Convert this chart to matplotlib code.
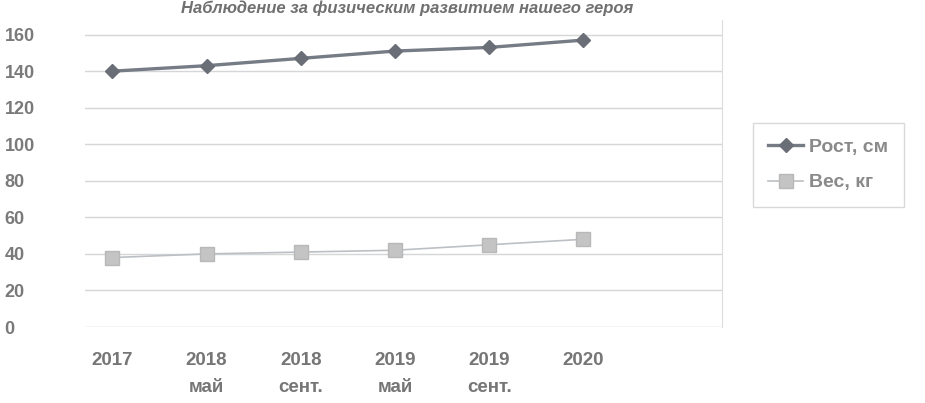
import matplotlib
matplotlib.use('Agg')
import matplotlib.pyplot as plt

periods = ['2017', '2018\nмай', '2018\nсент.', '2019\nмай', '2019\nсент.', '2020']
height_cm = [140, 143, 147, 151, 153, 157]
weight_kg = [38, 40, 41, 42, 45, 48]
y_ticks = [0, 20, 40, 60, 80, 100, 120, 140, 160]

plt.rcParams['font.family'] = ['Liberation Sans', 'DejaVu Sans']
plt.rcParams['font.weight'] = 'bold'

fig = plt.figure(figsize=(9.25, 4.03), dpi=100)
ax = fig.add_axes([85 / 925, 1 - 327 / 403, (722 - 85) / 925, (327 - 20) / 403])

x = list(range(len(periods)))
ax.plot(x, height_cm, color='#767c86', lw=2.4, marker='D', ms=7,
        mfc='#6a6e76', mec='#6a6e76', label='Рост, см', zorder=3)
ax.plot(x, weight_kg, color='#bcc0c4', lw=1.2, marker='s', ms=10,
        mfc='#c4c4c4', mec='#b8b8b8', label='Вес, кг', zorder=3)

ax.set_xlim(-0.29, 6.47)
ax.set_ylim(0, 168)
ax.set_yticks(y_ticks)
ax.set_xticks(x)
ax.set_xticklabels(periods, fontsize=13.5, color='#767676', linespacing=1.75)
for lab in ax.get_yticklabels():
    lab.set_horizontalalignment('left')
ax.tick_params(axis='y', length=0, pad=58, labelsize=13, labelcolor='#7a7a7a')
ax.tick_params(axis='x', length=0, pad=18)

ax.grid(axis='y', color='#d4d6d8', lw=1.0)
for side in ['top', 'left', 'bottom']:
    ax.spines[side].set_visible(False)
ax.spines['right'].set_color('#dcdcdc')

fig.text(0.44, 1.0, 'Наблюдение за физическим развитием нашего героя',
         ha='center', va='top', fontsize=12, style='italic',
         color='#707070')

leg = fig.legend(loc='center left', bbox_to_anchor=(743 / 925, 1 - 165 / 403),
                 frameon=True, fontsize=14, labelcolor='#8a8a8a',
                 handlelength=1.8, handletextpad=0.3, borderpad=0.8,
                 labelspacing=0.9, fancybox=False)
leg.get_frame().set_edgecolor('#d0d0d0')

fig.savefig('out.png', dpi=100)
